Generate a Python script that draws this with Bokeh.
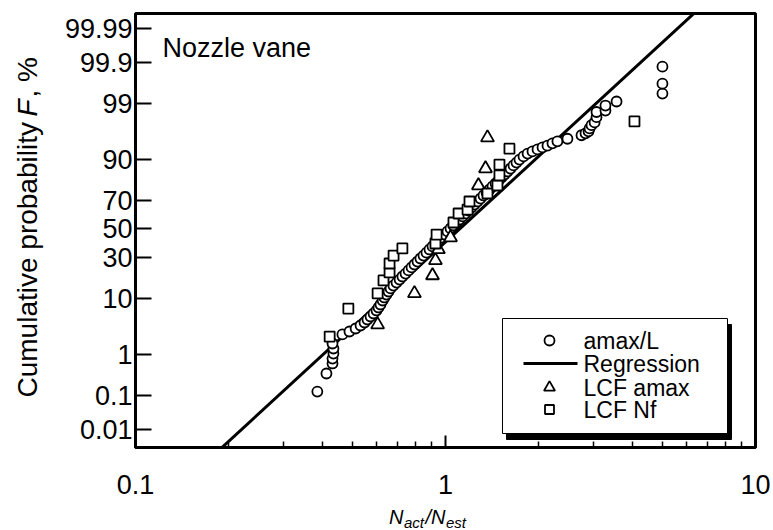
import math
from statistics import NormalDist
from bokeh.plotting import figure
from bokeh.layouts import row, column
from bokeh.models import FixedTicker, CustomJSTickFormatter, Range1d
from bokeh.core.properties import value
from bokeh.embed import file_html
from bokeh.resources import INLINE

# ---------------- data ----------------
amax_x = [0.386, 0.413, 0.432, 0.432, 0.435, 0.435, 0.432, 0.465, 0.490, 0.513,
          0.532, 0.548, 0.560, 0.573, 0.586, 0.599, 0.608, 0.617, 0.627, 0.635,
          0.645, 0.655, 0.665, 0.679, 0.695, 0.711, 0.726, 0.743, 0.760, 0.777,
          0.794, 0.812, 0.830, 0.849, 0.868, 0.888, 0.908, 0.928, 0.949, 0.971,
          0.993, 1.015, 1.038, 1.061, 1.085, 1.110, 1.135, 1.160, 1.186, 1.213,
          1.240, 1.268, 1.297, 1.326, 1.356, 1.387, 1.418, 1.450, 1.483, 1.516,
          1.550, 1.585, 1.621, 1.657, 1.694, 1.732, 1.785, 1.840, 1.908, 1.981,
          2.056, 2.133, 2.213, 2.296, 2.474, 2.746, 2.829, 2.893, 2.915, 2.958,
          3.027, 3.070, 3.070, 3.281, 3.281, 3.563, 5.01, 5.01, 5.01]
amax_F = [0.128, 0.367, 0.63, 0.81, 1.04, 1.33, 1.68, 2.52, 2.86, 3.24,
          3.67, 4.14, 4.66, 5.23, 5.84, 6.53, 7.27, 8.06, 9.23, 10.2,
          11.2, 12.3, 13.5, 14.7, 16.0, 17.4, 18.9, 20.4, 22.1, 23.8,
          25.5, 27.3, 29.2, 31.1, 33.1, 35.2, 37.3, 39.4, 41.6, 43.7,
          45.9, 48.2, 50.4, 52.6, 54.8, 57.0, 59.2, 61.3, 63.4, 65.5,
          67.5, 69.5, 71.4, 73.3, 75.1, 76.8, 78.5, 80.1, 81.6, 83.0,
          84.4, 85.7, 86.9, 88.1, 89.1, 90.1, 91.1, 91.9, 92.5, 93.0,
          93.5, 93.9, 94.4, 94.8, 95.3, 95.9, 96.2, 96.5, 96.9, 97.3,
          97.6, 98.1, 98.5, 98.6, 98.9, 99.1, 99.40, 99.65, 99.87]

lcf_amax_x = [0.604, 0.794, 0.908, 0.928, 0.949, 1.038, 1.277, 1.346, 1.366]
lcf_amax_F = [3.8, 11.6, 19.4, 28.0, 35.2, 43.7, 79.0, 86.9, 95.5]

lcf_nf_x = [0.423, 0.486, 0.604, 0.631, 0.660, 0.660, 0.680, 0.726, 0.928, 0.936,
            1.061, 1.102, 1.178, 1.195, 1.366, 1.471, 1.493, 1.493, 1.608, 4.07]
lcf_nf_F = [2.3, 7.0, 11.6, 17.0, 21.0, 26.1, 31.1, 35.9, 39.4, 45.9,
            54.8, 61.3, 64.1, 69.5, 74.5, 79.0, 84.0, 88.4, 93.2, 97.7]

reg_median = 1.11      # N_act/N_est at F = 50 %
reg_slope = 5.29       # probit units per decade
reg_x = [0.1, 10.0]

y_tick_F = [0.01, 0.1, 1, 10, 30, 50, 70, 90, 99, 99.9, 99.99]
y_tick_labels = ["0.01", "0.1", "1", "10", "30", "50", "70", "90", "99", "99.9", "99.99"]
x_ticks = [0.1, 1, 10]
x_tick_labels = ["0.1", "1", "10"]

legend_labels = ["amax/L", "Regression", "LCF amax", "LCF Nf"]

# ---------------- helpers ----------------
nd = NormalDist()


def z(F):
    return nd.inv_cdf(F / 100.0)


Y_TOP, Y_BOT = 3.998, -4.054
X0, X1, YT, YB = 135.0, 755.0, 13.0, 447.0   # frame edges in page pixels
PAGE_H = 530


def xd(px):
    return 10 ** (-1 + 2 * (px - X0) / (X1 - X0))


def yd(py):
    return Y_TOP - (py - YT) * (Y_TOP - Y_BOT) / (YB - YT)


FONT = "Liberation Sans"
xr = Range1d(0.1, 10)

# ---------------- main plot ----------------
p = figure(width=723, height=505, x_axis_type="log",
           x_range=xr, y_range=Range1d(Y_BOT, Y_TOP),
           output_backend="svg", toolbar_location=None,
           min_border_left=85, min_border_right=18,
           min_border_top=13, min_border_bottom=58)
p.grid.visible = False
p.outline_line_color = "black"
p.outline_line_width = 3
p.background_fill_color = "white"
p.border_fill_color = "white"

xa = p.xaxis[0]
xa.ticker = FixedTicker(ticks=x_ticks,
                        minor_ticks=[m * 10 ** e for e in (-1, 0) for m in range(2, 10)])
xa.formatter = CustomJSTickFormatter(args=dict(t=x_ticks, l=x_tick_labels), code="""
for (let i = 0; i < t.length; i++) {
  if (Math.abs(Math.log10(tick) - Math.log10(t[i])) < 1e-6) return l[i];
}
return "";
""")
xa.major_label_standoff = 27
xa.major_tick_in = 12
xa.major_tick_out = 0
xa.minor_tick_in = 6
xa.minor_tick_out = 0
xa.minor_tick_line_width = 1.5
xa.minor_tick_line_color = "black"

ya = p.yaxis[0]
y_ticks = [z(F) for F in y_tick_F]
ya.ticker = FixedTicker(ticks=y_ticks, minor_ticks=[])
ya.formatter = CustomJSTickFormatter(args=dict(t=y_ticks, l=y_tick_labels), code="""
for (let i = 0; i < t.length; i++) {
  if (Math.abs(tick - t[i]) < 1e-6) return l[i];
}
return "";
""")
ya.major_tick_in = 16
ya.major_tick_out = 0
ya.minor_tick_line_color = None
ya.major_label_standoff = 3

for ax in (xa, ya):
    ax.axis_line_width = 3
    ax.axis_line_color = "black"
    ax.major_tick_line_width = 2
    ax.major_tick_line_color = "black"
    ax.major_label_text_font = FONT
    ax.major_label_text_font_size = "27px"
    ax.major_label_text_color = "black"

# regression line
reg_z = [reg_slope * (math.log10(x) - math.log10(reg_median)) for x in reg_x]
p.line(reg_x, reg_z, line_width=3, line_color="black")

# data points
p.scatter(amax_x, [z(F) for F in amax_F], marker="circle", size=10,
          fill_color="white", line_color="black", line_width=1.8)
p.scatter(lcf_amax_x, [z(F) for F in lcf_amax_F], marker="triangle", size=13,
          fill_color="white", line_color="black", line_width=1.8)
p.scatter(lcf_nf_x, [z(F) for F in lcf_nf_F], marker="square", size=10,
          fill_color="white", line_color="black", line_width=1.8)

# legend (box with drop shadow)
box_l, box_r, box_t, box_b = 502, 727, 318, 433
p.quad(left=[xd(box_l + 4)], right=[xd(box_r + 4)], top=[yd(box_t + 6)],
       bottom=[yd(box_b + 6)], fill_color="black", line_color="black")
p.quad(left=[xd(box_l)], right=[xd(box_r)], top=[yd(box_t)], bottom=[yd(box_b)],
       fill_color="white", line_color="black", line_width=1)
rows = [340, 363, 387, 409]
sym_x = xd(549)
p.scatter([sym_x], [yd(rows[0])], marker="circle", size=10,
          fill_color="white", line_color="black", line_width=1.8)
p.line([xd(523), xd(577)], [yd(rows[1]), yd(rows[1])], line_width=3, line_color="black")
p.scatter([sym_x], [yd(rows[2])], marker="triangle", size=11,
          fill_color="white", line_color="black", line_width=1.8)
p.scatter([sym_x], [yd(rows[3])], marker="square", size=9,
          fill_color="white", line_color="black", line_width=1.8)
p.text(x=[xd(583)] * 4, y=[yd(r) for r in rows], text=legend_labels,
       text_font=value(FONT), text_font_size=value("23px"),
       text_baseline="middle", text_align="left", text_color="black")

# panel title (cap centre at page y 47)
p.text(x=[xd(162)], y=[yd(47)], text=["Nozzle vane"], text_font=value(FONT),
       text_font_size=value("27px"), text_baseline="middle", text_align="left",
       text_color="black")

# ---------------- strip below: x axis title (page y 505..530) ----------------
xs = figure(width=723, height=25, x_axis_type="log", x_range=xr,
            y_range=Range1d(0, 25), x_axis_location=None, y_axis_location=None,
            output_backend="svg", toolbar_location=None,
            min_border_left=85, min_border_right=18,
            min_border_top=0, min_border_bottom=0)
xs.grid.visible = False
xs.outline_line_color = None
xs.background_fill_color = "white"
xs.border_fill_color = "white"

# (text, size, left x, vertical centre y) in page pixels
xlab = [("N", "20px", 388.5, 516.5),
        ("act", "15px", 403.5, 521.5),
        ("/N", "20px", 425.0, 516.5),
        ("est", "15px", 445.5, 521.5)]
for txt, fs, px, py in xlab:
    xs.text(x=[xd(px)], y=[PAGE_H - py], text=[txt], text_font=value(FONT),
            text_font_size=value(fs), text_font_style="italic",
            text_align="left", text_baseline="middle", text_color="black")

# ---------------- strip left: y axis title ----------------
ys = figure(width=50, height=530, x_range=Range1d(0, 50), y_range=Range1d(0, 530),
            x_axis_location=None, y_axis_location=None,
            output_backend="svg", toolbar_location=None, min_border=0)
ys.grid.visible = False
ys.outline_line_color = None
ys.background_fill_color = "white"
ys.border_fill_color = "white"
ylab = [("Cumulative probability ", "normal", 397),
        ("F", "italic", 116),
        (", %", "normal", 97)]
for txt, style, py in ylab:
    ys.text(x=[27], y=[PAGE_H - py], text=[txt], angle=math.pi / 2,
            text_font=value(FONT), text_font_size=value("28px"), text_font_style=style,
            text_align="left", text_baseline="middle", text_color="black")

layout = row(ys, column(p, xs))
open("out.html", "w").write(file_html(layout, INLINE))
